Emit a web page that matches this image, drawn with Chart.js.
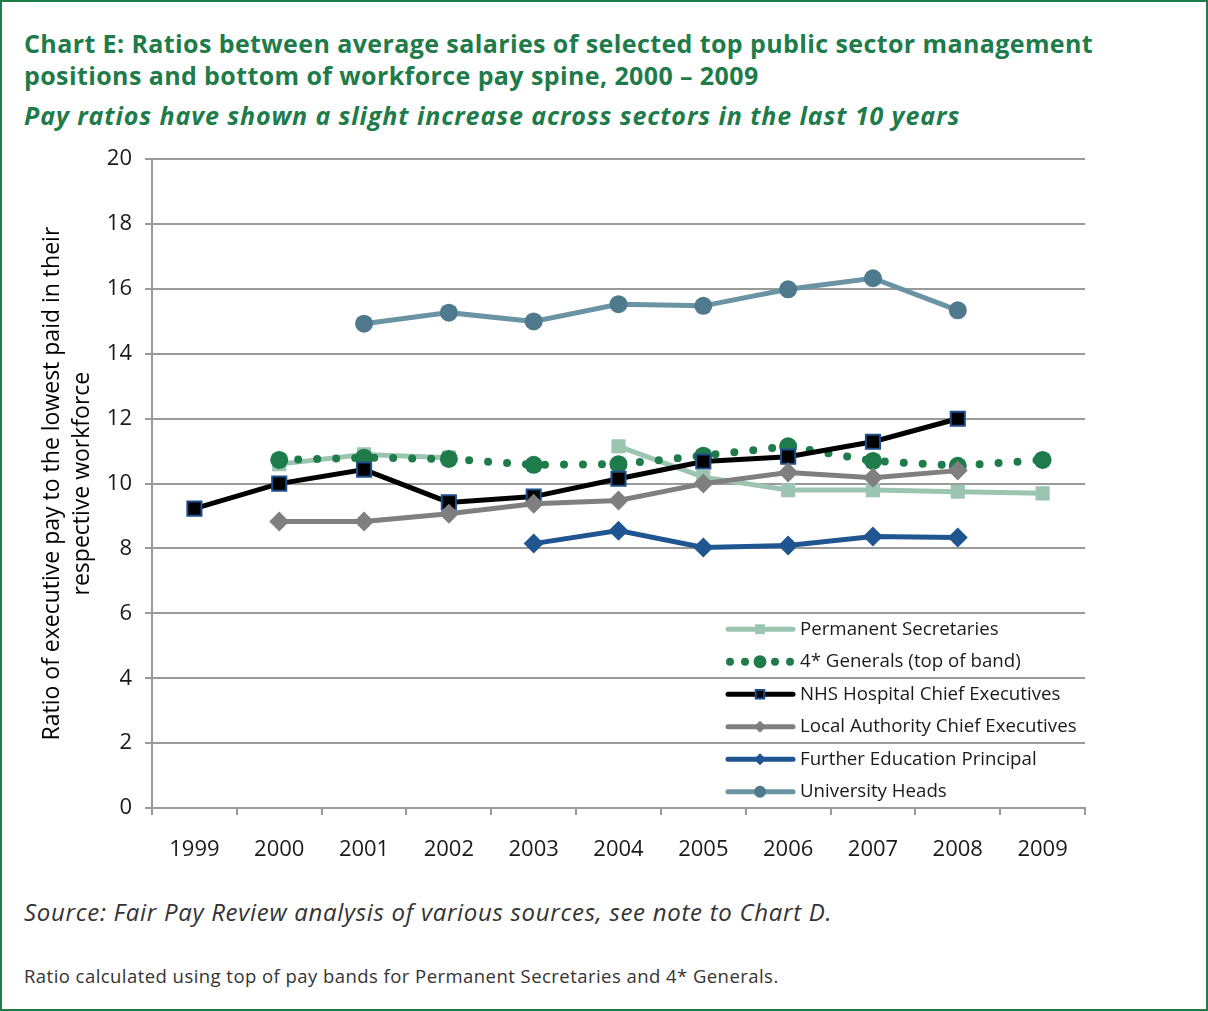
<!DOCTYPE html>
<html>
<head>
<meta charset="utf-8">
<script src="https://cdn.jsdelivr.net/npm/chart.js@4.4.1/dist/chart.umd.min.js"></script>
<style>
  body{ margin:0; background:#fff; font-family:"Open Sans", sans-serif; }
  #frame{ position:relative; width:1208px; height:1011px; box-sizing:border-box;
          border:2px solid #1e7b4a; overflow:hidden; }
  #title{ position:absolute; left:22px; top:25px; color:#1e7b4a; font-weight:bold;
          font-size:25px; letter-spacing:0.4px; line-height:32px; }
  #subtitle{ position:absolute; left:22px; top:97px; color:#1e7b4a; font-weight:bold;
             font-style:italic; font-size:25px; letter-spacing:0.9px; line-height:32px; }
  #source{ position:absolute; left:22px; top:893px; color:#333; font-style:italic;
           font-size:24px; letter-spacing:0.7px; }
  #note{ position:absolute; left:22px; top:961px; color:#333; font-size:18.5px; letter-spacing:0.45px; }
  #wrap{ position:absolute; left:-2px; top:131px; width:1208px; height:747px; }
</style>
</head>
<body>
<div id="frame">
  <div id="title">Chart E: Ratios between average salaries of selected top public sector management<br>positions and bottom of workforce pay spine, 2000 – 2009</div>
  <div id="subtitle">Pay ratios have shown a slight increase across sectors in the last 10 years</div>
  <div id="wrap"><canvas id="chart"></canvas></div>
  <div id="source">Source: Fair Pay Review analysis of various sources, see note to Chart D.</div>
  <div id="note">Ratio calculated using top of pay bands for Permanent Secretaries and 4* Generals.</div>
</div>
<script>
// ===============================
// DATA
// ===============================
const years = ["1999","2000","2001","2002","2003","2004","2005","2006","2007","2008","2009"];

const permSec    = [null, 10.6, 10.9, 10.8, null, 11.15, 10.2, 9.8, 9.8, 9.75, 9.7];
const generals   = [null, 10.73, 10.8, 10.76, 10.58, 10.6, 10.86, 11.15, 10.7, 10.55, 10.73];
const nhs        = [9.23, 10.0, 10.43, 9.42, 9.6, 10.15, 10.68, 10.83, 11.29, 12.0, null];
const localAuth  = [null, 8.83, 8.83, 9.07, 9.38, 9.48, 10.0, 10.34, 10.18, 10.4, null];
const furtherEd  = [null, null, null, null, 8.15, 8.55, 8.03, 8.09, 8.37, 8.34, null];
const university = [null, null, 14.93, 15.27, 15.0, 15.53, 15.48, 15.99, 16.33, 15.34, null];

const yTicks = [0,2,4,6,8,10,12,14,16,18,20];

const FONT = "'Open Sans', sans-serif";
const GRID = '#9a9a9a';

// ===============================
// LEGEND (drawn inside the plot)
// ===============================
const insideLegend = {
  id:'insideLegend',
  afterDatasetsDraw(chart){
    const ctx = chart.ctx;
    const area = chart.chartArea;
    const x0 = area.right - 357;
    const x1 = x0 + 65;
    ctx.save();
    chart.data.datasets.forEach((ds,row)=>{
      const y = area.top + 470 + row*32.5;
      if(ds.legendDots){
        // dotted sample with a big dot in the middle
        ctx.fillStyle = ds.borderColor;
        [0,15,45,60].forEach(dx=>{
          ctx.beginPath(); ctx.arc(x0+2+dx, y, 4, 0, Math.PI*2); ctx.fill();
        });
        ctx.beginPath(); ctx.arc(x0+32, y, 6.5, 0, Math.PI*2); ctx.fill();
      } else {
        ctx.strokeStyle = ds.borderColor;
        ctx.lineWidth = ds.borderWidth;
        ctx.lineCap = 'round';
        ctx.beginPath(); ctx.moveTo(x0, y); ctx.lineTo(x1, y); ctx.stroke();
        ctx.fillStyle = ds.pointBackgroundColor;
        ctx.strokeStyle = ds.pointBorderColor;
        ctx.lineWidth = ds.pointBorderWidth || 0;
        Chart.helpers.drawPoint(ctx, {
          pointStyle: ds.pointStyle,
          radius: ds.legendRadius,
          borderWidth: ds.pointBorderWidth || 0
        }, x0+32, y);
      }
      ctx.fillStyle = '#1a1a1a';
      ctx.font = '18.7px ' + FONT;
      ctx.textBaseline = 'middle';
      ctx.textAlign = 'left';
      ctx.fillText(ds.label, x1+7, y);
    });
    ctx.restore();
  }
};

// ===============================
// CHART
// ===============================
const ctx = document.getElementById('chart');

new Chart(ctx,{
  type:'line',
  data:{
    labels: years,
    datasets:[
      {
        label:'Permanent Secretaries', data:permSec, order:6,
        borderColor:'#9cc5b1', borderWidth:5,
        pointStyle:'rect', pointRadius:10, legendRadius:7,
        pointBackgroundColor:'#9cc5b1', pointBorderColor:'#9cc5b1', pointBorderWidth:0
      },
      {
        label:'4* Generals (top of band)', data:generals, order:5, legendDots:true,
        borderColor:'#1e7b4a', borderWidth:8, borderDash:[0,19], borderCapStyle:'round',
        pointStyle:'circle', pointRadius:9, legendRadius:6,
        pointBackgroundColor:'#1e7b4a', pointBorderColor:'#1e7b4a', pointBorderWidth:0
      },
      {
        label:'NHS Hospital Chief Executives', data:nhs, order:4,
        borderColor:'#000000', borderWidth:5,
        pointStyle:'rect', pointRadius:10, legendRadius:6,
        pointBackgroundColor:'#000000', pointBorderColor:'#1f4e8c', pointBorderWidth:2
      },
      {
        label:'Local Authority Chief Executives', data:localAuth, order:3,
        borderColor:'#7f7f7f', borderWidth:5,
        pointStyle:'rectRot', pointRadius:10, legendRadius:6,
        pointBackgroundColor:'#7f7f7f', pointBorderColor:'#7f7f7f', pointBorderWidth:0
      },
      {
        label:'Further Education Principal', data:furtherEd, order:2,
        borderColor:'#1f5591', borderWidth:5,
        pointStyle:'rectRot', pointRadius:10, legendRadius:6,
        pointBackgroundColor:'#1f5591', pointBorderColor:'#1f5591', pointBorderWidth:0
      },
      {
        label:'University Heads', data:university, order:1,
        borderColor:'#6a93a4', borderWidth:5,
        pointStyle:'circle', pointRadius:9, legendRadius:6,
        pointBackgroundColor:'#4f7a8d', pointBorderColor:'#4f7a8d', pointBorderWidth:0
      }
    ]
  },
  options:{
    responsive:true,
    maintainAspectRatio:false,
    animation:false,
    spanGaps:false,
    elements:{ line:{ tension:0, fill:false } },
    layout:{ padding:{ left:38, right:123, top:15, bottom:0 } },
    plugins:{
      legend:{ display:false },
      tooltip:{ enabled:false }
    },
    scales:{
      x:{
        offset:true,
        grid:{ offset:true, drawOnChartArea:false, drawTicks:true, tickLength:7, color:GRID, lineWidth:2 },
        border:{ color:GRID, width:2 },
        ticks:{ color:'#1a1a1a', font:{ family:FONT, size:22 }, padding:22, maxRotation:0, autoSkip:false },
        afterFit(scale){ scale.height = 72; }
      },
      y:{
        min:0, max:20,
        afterBuildTicks(scale){ scale.ticks = yTicks.map(v=>({value:v})); },
        grid:{ color:GRID, lineWidth:2, tickLength:7 },
        border:{ color:GRID, width:2 },
        ticks:{ color:'#1a1a1a', font:{ family:FONT, size:22 }, padding:13 },
        title:{
          display:true,
          text:['Ratio of executive pay to the lowest paid in their','respective workforce'],
          color:'#000',
          font:{ family:FONT, size:23, lineHeight:1.3 },
          padding:{ top:0, bottom:0 }
        },
        afterFit(scale){ scale.width = 114; }
      }
    }
  },
  plugins:[insideLegend]
});
</script>
</body>
</html>
